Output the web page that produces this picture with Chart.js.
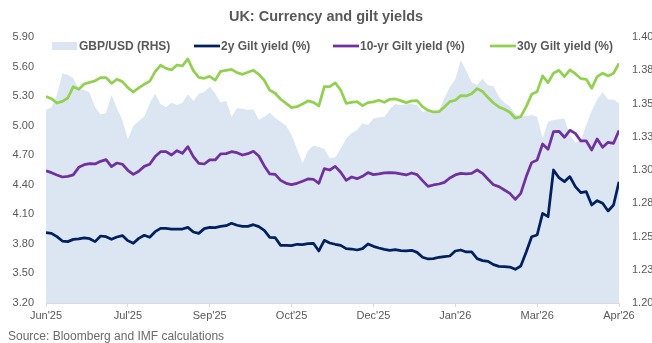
<!DOCTYPE html>
<html><head><meta charset="utf-8">
<script src="https://cdn.jsdelivr.net/npm/chart.js@4.4.1/dist/chart.umd.min.js"></script>
<style>html,body{margin:0;padding:0;background:#fff;}#wrap{width:652px;height:343px;position:relative;}</style>
</head><body><div id="wrap"><canvas id="c" width="652" height="343"></canvas></div>
<script>
const xTickLabels = ["Jun'25","Jul'25","Sep'25","Oct'25","Dec'25","Jan'26","Mar'26","Apr'26"];
const pointsPerTick = 15;
const seriesNames = ["GBP/USD (RHS)","2y Gilt yield (%)","10-yr Gilt yield (%)","30y Gilt yield (%)"];

const gbpusd = [1.3451,1.3471,1.3564,1.3727,1.3717,1.3689,1.3607,1.3604,1.3581,1.3471,
1.3419,1.3426,1.3564,1.3464,1.3376,1.3231,1.3331,1.3368,1.3401,1.3501,
1.3576,1.3494,1.3471,1.3506,1.3489,1.3506,1.3569,1.3519,1.3574,1.3586,
1.3627,1.3576,1.3506,1.3521,1.3401,1.3464,1.3461,1.3451,1.3456,1.3376,
1.3401,1.3431,1.3391,1.3363,1.3333,1.3263,1.3158,1.3050,1.3145,1.3185,
1.3173,1.3158,1.3088,1.3095,1.3160,1.3236,1.3276,1.3301,1.3351,1.3338,
1.3388,1.3396,1.3398,1.3456,1.3496,1.3489,1.3494,1.3496,1.3486,1.3436,
1.3449,1.3426,1.3439,1.3544,1.3622,1.3682,1.3827,1.3747,1.3659,1.3639,
1.3687,1.3637,1.3629,1.3551,1.3506,1.3479,1.3421,1.3401,1.3406,1.3414,
1.3401,1.3238,1.3363,1.3376,1.3381,1.3388,1.3263,1.3206,1.3226,1.3338,
1.3446,1.3531,1.3584,1.3531,1.3531,1.3501];

const gilt2y = [3.914,3.907,3.873,3.829,3.823,3.846,3.850,3.860,3.853,3.823,
3.880,3.873,3.846,3.870,3.884,3.833,3.806,3.856,3.887,3.867,
3.924,3.958,3.958,3.951,3.951,3.951,3.968,3.921,3.907,3.955,
3.968,3.965,3.978,3.985,4.009,3.989,3.978,3.978,3.995,3.975,
3.938,3.867,3.863,3.785,3.785,3.782,3.796,3.792,3.802,3.806,
3.728,3.836,3.809,3.796,3.785,3.752,3.748,3.738,3.752,3.799,
3.775,3.758,3.745,3.735,3.741,3.731,3.728,3.735,3.714,3.664,
3.647,3.650,3.664,3.670,3.677,3.728,3.738,3.718,3.718,3.650,
3.630,3.623,3.589,3.572,3.569,3.565,3.542,3.576,3.718,3.873,
3.890,4.110,4.076,4.550,4.472,4.432,4.483,4.381,4.320,4.330,
4.195,4.239,4.212,4.134,4.195,4.430];

const gilt10y = [4.543,4.523,4.500,4.479,4.486,4.500,4.577,4.604,4.614,4.611,
4.638,4.655,4.584,4.621,4.608,4.547,4.506,4.537,4.587,4.608,
4.686,4.736,4.736,4.702,4.746,4.719,4.787,4.686,4.618,4.611,
4.652,4.652,4.713,4.716,4.736,4.726,4.702,4.716,4.740,4.692,
4.591,4.510,4.506,4.445,4.415,4.401,4.415,4.435,4.459,4.456,
4.415,4.564,4.550,4.587,4.527,4.445,4.479,4.462,4.486,4.523,
4.503,4.510,4.520,4.523,4.520,4.510,4.500,4.520,4.503,4.442,
4.384,4.398,4.408,4.425,4.469,4.500,4.516,4.510,4.516,4.550,
4.516,4.456,4.401,4.381,4.347,4.313,4.252,4.313,4.483,4.625,
4.652,4.814,4.760,4.939,4.943,4.882,4.953,4.922,4.845,4.845,
4.753,4.865,4.780,4.831,4.821,4.950];

const gilt30y = [5.295,5.274,5.230,5.247,5.281,5.396,5.369,5.423,5.440,5.454,
5.488,5.488,5.430,5.471,5.447,5.386,5.342,5.383,5.420,5.450,
5.549,5.613,5.582,5.566,5.616,5.606,5.677,5.559,5.491,5.481,
5.501,5.461,5.552,5.562,5.572,5.538,5.521,5.542,5.562,5.521,
5.461,5.359,5.329,5.268,5.227,5.183,5.193,5.220,5.251,5.237,
5.200,5.396,5.396,5.434,5.362,5.227,5.237,5.244,5.203,5.234,
5.241,5.258,5.237,5.268,5.271,5.254,5.234,5.251,5.254,5.193,
5.156,5.139,5.142,5.190,5.244,5.258,5.305,5.302,5.325,5.376,
5.346,5.285,5.230,5.190,5.166,5.136,5.075,5.092,5.193,5.318,
5.346,5.505,5.437,5.532,5.562,5.498,5.566,5.528,5.478,5.471,
5.379,5.498,5.532,5.505,5.532,5.633];

const pointIndex = gilt2y.map((_, i) => i);

const FONT = '"Liberation Sans", Arial, sans-serif';
Chart.defaults.font.family = FONT;
Chart.defaults.color = '#595959';

const overlay = {
  id: 'overlay',
  afterDraw(chart) {
    const ctx = chart.ctx;
    ctx.save();
    const xs = [52, 194, 333, 490];
    const y = 46;
    ctx.font = 'bold 12px ' + FONT;
    ctx.textBaseline = 'middle';
    ctx.textAlign = 'left';
    chart.data.datasets.forEach((ds, i) => {
      const x = xs[i];
      if (ds.fill) {
        ctx.fillStyle = ds.backgroundColor;
        ctx.fillRect(x, y - 4, 25, 8);
      } else {
        ctx.strokeStyle = ds.borderColor;
        ctx.lineWidth = 2.75;
        ctx.beginPath();
        ctx.moveTo(x, y);
        ctx.lineTo(x + 26, y);
        ctx.stroke();
      }
      ctx.fillStyle = '#595959';
      ctx.fillText(ds.label, x + 27, y + 0.5);
    });
    ctx.font = '12px ' + FONT;
    ctx.fillStyle = '#6a6a6a';
    ctx.textBaseline = 'alphabetic';
    ctx.fillText('Source: Bloomberg and IMF calculations', 8, 340);
    ctx.restore();
  }
};

new Chart(document.getElementById('c'), {
  type: 'line',
  data: {
    labels: pointIndex,
    datasets: [
      { label: seriesNames[0], data: gbpusd, yAxisID: 'y1', fill: 'start',
        backgroundColor: '#DCE6F2', borderColor: 'rgba(0,0,0,0)', borderWidth: 0,
        pointRadius: 0, tension: 0, order: 1 },
      { label: seriesNames[1], data: gilt2y, yAxisID: 'y', fill: false,
        borderColor: '#002060', borderWidth: 2.75, pointRadius: 0, tension: 0, order: 0,
        borderJoinStyle: 'round' },
      { label: seriesNames[2], data: gilt10y, yAxisID: 'y', fill: false,
        borderColor: '#7030A0', borderWidth: 2.75, pointRadius: 0, tension: 0, order: 0,
        borderJoinStyle: 'round' },
      { label: seriesNames[3], data: gilt30y, yAxisID: 'y', fill: false,
        borderColor: '#92D050', borderWidth: 2.75, pointRadius: 0, tension: 0, order: 0,
        borderJoinStyle: 'round' }
    ]
  },
  options: {
    responsive: false,
    animation: false,
    layout: { padding: { left: 0, right: 0, top: 0, bottom: 20 } },
    plugins: {
      legend: { display: false },
      tooltip: { enabled: false },
      title: {
        display: true, text: 'UK: Currency and gilt yields', color: '#595959',
        font: { size: 14.5, weight: 'bold', family: FONT },
        padding: { top: 8, bottom: 11.6 }
      }
    },
    scales: {
      x: {
        type: 'linear', min: 0, max: gilt2y.length - 1, position: 'bottom',
        ticks: {
          stepSize: pointsPerTick, autoSkip: false, maxRotation: 0, minRotation: 0,
          padding: 2, font: { size: 11 }, color: '#595959',
          callback: (v) => xTickLabels[Math.round(v / pointsPerTick)]
        },
        grid: { display: true, drawOnChartArea: false, drawTicks: true, tickLength: 4, color: '#d9d9d9' },
        border: { display: true, color: '#d9d9d9' },
        afterFit: (s) => { s.height = 20; }
      },
      y: {
        type: 'linear', position: 'left', min: 3.2, max: 5.9,
        ticks: { stepSize: 0.3, padding: 12, font: { size: 11 }, color: '#595959',
          callback: (v) => v.toFixed(2) },
        grid: { display: false, drawTicks: false },
        border: { display: false },
        afterFit: (s) => { s.width = 46; }
      },
      y1: {
        type: 'linear', position: 'right', min: 1.2, max: 1.4,
        ticks: { stepSize: 0.025, padding: 13, font: { size: 11 }, color: '#595959',
          callback: (v) => (Math.round(Math.round(v * 1000) / 10) / 100).toFixed(2) },
        grid: { display: false, drawTicks: false },
        border: { display: false },
        afterFit: (s) => { s.width = 33; }
      }
    }
  },
  plugins: [overlay]
});
</script></body></html>
